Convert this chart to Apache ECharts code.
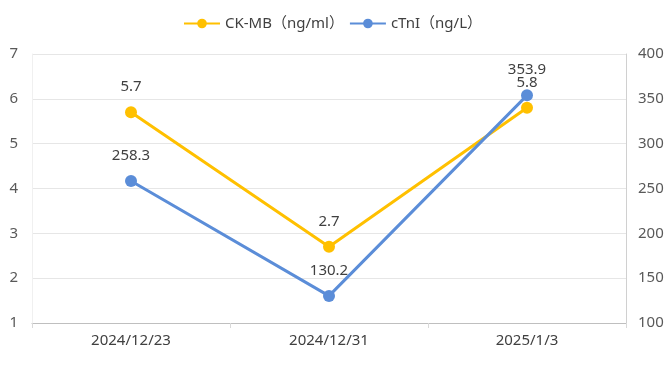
<!DOCTYPE html>
<html><head><meta charset="utf-8">
<script src="https://cdn.jsdelivr.net/npm/echarts@6/dist/echarts.min.js"></script>
<style>html,body{margin:0;padding:0;background:#fff}#c{width:672px;height:374px}</style>
</head><body><div id="c"></div>
<script>
const categories = ["2024/12/23", "2024/12/31", "2025/1/3"];
const ckmb = [5.7, 2.7, 5.8];
const ctni = [258.3, 130.2, 353.9];
const leftTicks = [1, 7, 1];
const rightTicks = [100, 400, 50];
const names = ["CK-MB（ng/ml）", "cTnI（ng/L）"];

const font = "'Noto Sans','Noto Sans CJK SC',sans-serif";
const chart = echarts.init(document.getElementById('c'));
chart.setOption({
  animation: false,
  textStyle: {fontFamily: font},
  color: ['#FFC000', '#5B8DD8'],
  legend: {
    top: 11, left: 178, itemWidth: 36, itemHeight: 12, itemGap: 5,
    textStyle: {fontSize: 15, color: '#404040', fontFamily: font},
    data: names
  },
  grid: {left: 32, right: 46, top: 54, bottom: 51},
  xAxis: {
    type: 'category', data: categories, boundaryGap: true,
    axisLine: {lineStyle: {color: '#bfbfbf'}},
    axisTick: {show: true, alignWithLabel: false, lineStyle: {color: '#d9d9d9'}},
    axisLabel: {fontSize: 15, color: '#404040', margin: 10, fontFamily: font}
  },
  yAxis: [{
    type: 'value', min: leftTicks[0], max: leftTicks[1], interval: leftTicks[2],
    axisLine: {show: true, lineStyle: {color: '#f0f0f0'}},
    axisTick: {show: false},
    axisLabel: {fontSize: 15, color: '#595959', margin: 14, fontFamily: font},
    splitLine: {lineStyle: {color: '#e6e6e6'}}
  }, {
    type: 'value', min: rightTicks[0], max: rightTicks[1], interval: rightTicks[2],
    position: 'right',
    axisLine: {show: true, lineStyle: {color: '#d0d0d0'}},
    axisTick: {show: false},
    axisLabel: {fontSize: 15, color: '#595959', margin: 12, fontFamily: font},
    splitLine: {show: false}
  }],
  series: [{
    name: names[0], type: 'line', yAxisIndex: 0, data: ckmb,
    symbol: 'circle', symbolSize: 12, lineStyle: {width: 3},
    label: {show: true, position: 'top', distance: 12, fontSize: 15, color: '#404040', fontFamily: font}
  }, {
    name: names[1], type: 'line', yAxisIndex: 1, data: ctni,
    symbol: 'circle', symbolSize: 12, lineStyle: {width: 3},
    label: {show: true, position: 'top', distance: 12, fontSize: 15, color: '#404040', fontFamily: font}
  }]
});
</script></body></html>
